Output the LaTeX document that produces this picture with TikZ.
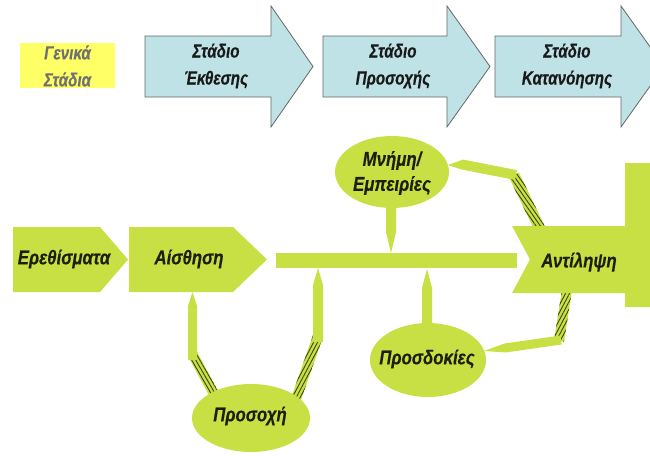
\documentclass[tikz,border=0pt]{standalone}
\usepackage{fontspec}
\setmainfont[FakeStretch=0.84, BoldItalicFeatures={FakeBold=0.3}]{Liberation Sans}
\newfontfamily\topfont[FakeStretch=0.80, BoldItalicFeatures={FakeBold=0.3}]{Liberation Sans}
\usetikzlibrary{calc,patterns.meta}
\definecolor{lime}{RGB}{200,224,68}
\definecolor{skyb}{RGB}{191,226,230}
\definecolor{hatchc}{RGB}{58,70,18}
\definecolor{yelbox}{RGB}{255,255,102}
\definecolor{txtgrey}{RGB}{112,112,112}
\definecolor{txtdark}{RGB}{28,32,10}
\tikzset{
  lbl/.style={font=\fontsize{20}{27}\selectfont\bfseries\itshape, text=txtdark, align=center, inner sep=0pt},
  toplbl/.style={lbl, font=\topfont\fontsize{19}{27}\selectfont\bfseries\itshape, text=black!90},
  greylbl/.style={toplbl, text=txtgrey},
  stagearrow/.style={fill=skyb, draw=black!60, line width=0.8pt},
  greenshape/.style={fill=lime},
  hatchfill/.style={pattern={Lines[angle=#1,distance=3.5pt,line width=0.9pt]}, pattern color=hatchc},
}
% hatched band: from, to, half width, hatch angle
\newcommand\hband[4]{%
  \fill[lime] ($(#1)!#3!90:(#2)$) -- ($(#2)!#3!-90:(#1)$) -- ($(#2)!#3!90:(#1)$) -- ($(#1)!#3!-90:(#2)$) -- cycle;
  \fill[hatchfill=#4] ($(#1)!#3!90:(#2)$) -- ($(#2)!#3!-90:(#1)$) -- ($(#2)!#3!90:(#1)$) -- ($(#1)!#3!-90:(#2)$) -- cycle;}
% pointer: from, shoulder, tip, half width
\newcommand\pointer[4]{%
  \fill[lime] ($(#1)!#4!90:(#2)$) -- ($(#2)!#4!-90:(#1)$) -- (#3) -- ($(#2)!#4!90:(#1)$) -- ($(#1)!#4!-90:(#2)$) -- cycle;}
\newcommand\stagearr[3]{%
  \draw[stagearrow] (#1,36) -- (#2,36) -- (#2,6) -- (#3,66.5) -- (#2,127) -- (#2,97) -- (#1,97) -- cycle;}
\begin{document}
\begin{tikzpicture}[x=1pt,y=-1pt]
\useasboundingbox (0,0) rectangle (650,455);
% ---- top row
\fill[yelbox] (20,43) rectangle (115,88);
\node[greylbl] (genika) at (67.5,66) {Γενικά\\Στάδια};
\stagearr{145}{271}{313}
\stagearr{323}{447}{490}
\stagearr{495}{621}{664}
\node[toplbl] (st1) at (216,66) {Στάδιο\\Έκθεσης};
\node[toplbl] (st2) at (393,66) {Στάδιο\\Προσοχής};
\node[toplbl] (st3) at (567,66) {Στάδιο\\Κατανόησης};
% ---- connector coordinates
\coordinate (pL0) at (192.5,360); \coordinate (pL1) at (192.5,306); \coordinate (pLt) at (192.5,292);
\coordinate (hL0) at (192.5,354); \coordinate (hL1) at (215,396);
\coordinate (pR0) at (318,342); \coordinate (pR1) at (318,285); \coordinate (pRt) at (318,268);
\coordinate (hR0) at (318,336); \coordinate (hR1) at (296,399);
\coordinate (pM0) at (391,200); \coordinate (pM1) at (391,232); \coordinate (pMt) at (391,253);
\coordinate (pP0) at (427,330); \coordinate (pP1) at (427,288); \coordinate (pPt) at (427,269);
\coordinate (hA0) at (540,229); \coordinate (hA1) at (514,175);
\coordinate (pA0) at (516,175); \coordinate (pA1) at (462,164.5); \coordinate (pAt) at (448,165);
\coordinate (hB0) at (567,290); \coordinate (hB1) at (559,341);
\coordinate (pB0) at (561,340); \coordinate (pB1) at (505,348); \coordinate (pBt) at (484,351);
% ---- connectors
\hband{hL0}{hL1}{5pt}{-60}
\hband{hR0}{hR1}{5pt}{62}
\hband{hA0}{hA1}{5.5pt}{-55}
\hband{hB0}{hB1}{5pt}{62}
\pointer{pL0}{pL1}{pLt}{4.5pt}
\pointer{pR0}{pR1}{pRt}{5pt}
\pointer{pM0}{pM1}{pMt}{5pt}
\pointer{pP0}{pP1}{pPt}{5pt}
\pointer{pA0}{pA1}{pAt}{5pt}
\pointer{pB0}{pB1}{pBt}{4.5pt}
% ---- main shapes
\fill[greenshape] (13,227) -- (100,227) -- (128,259.5) -- (100,292) -- (13,292) -- cycle;
\node[lbl] (ereth) at (64,259) {Ερεθίσματα};
\fill[greenshape] (129,227) -- (233,227) -- (267,259.5) -- (233,292) -- (129,292) -- cycle;
\node[lbl] (aisth) at (189,259) {Αίσθηση};
\fill[greenshape] (276,253) rectangle (517,268);
\fill[greenshape] (512,226) -- (625,226) -- (625,163) -- (650,163) -- (650,307) -- (625,307) -- (625,293) -- (512,293) -- (530,259.5) -- cycle;
\node[lbl] (antil) at (579,262) {Αντίληψη};
\fill[greenshape] (392,172) ellipse [x radius=57, y radius=36];
\node[lbl, font=\fontsize{20}{25}\selectfont\bfseries\itshape] (mnimi) at (392,173) {Μνήμη/\\Εμπειρίες};
\fill[greenshape] (428,360) ellipse [x radius=58, y radius=37];
\node[lbl] (prosd) at (427,359) {Προσδοκίες};
\fill[greenshape] (251,418) ellipse [x radius=59, y radius=34];
\node[lbl] (prosox) at (250,416) {Προσοχή};
\end{tikzpicture}
\end{document}
